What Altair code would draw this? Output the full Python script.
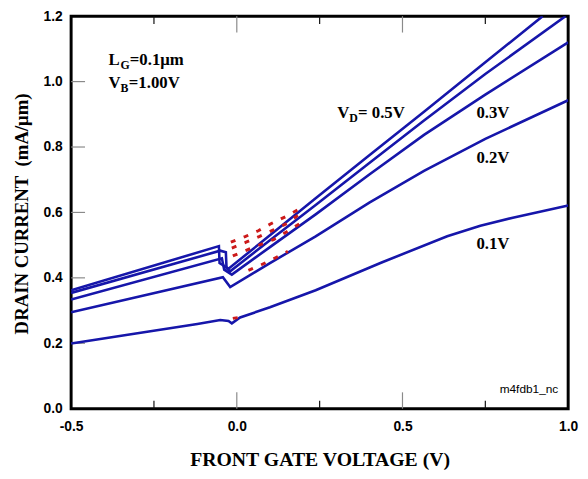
import altair as alt
import pandas as pd

# ---- blue curves: front gate voltage (V) vs drain current (mA/um) ----
VG_05 = [-0.5, -0.054, -0.052, -0.025, 0.1, 0.238, 0.4, 0.565, 0.75, 0.923]
ID_05 = [0.362, 0.497, 0.445, 0.428, 0.53, 0.643, 0.775, 0.908, 1.059, 1.2]

VG_04 = [-0.5, -0.05, -0.033, -0.031, -0.02, 0.1, 0.238, 0.4, 0.565, 0.75, 0.992]
ID_04 = [0.354, 0.483, 0.478, 0.43, 0.42, 0.515, 0.623, 0.751, 0.881, 1.023, 1.2]

VG_03 = [-0.5, -0.045, -0.038, -0.015, 0.1, 0.238, 0.4, 0.565, 0.75, 1.0]
ID_03 = [0.334, 0.46, 0.425, 0.41, 0.494, 0.594, 0.716, 0.837, 0.96, 1.12]

VG_02 = [-0.5, -0.042, -0.02, 0.1, 0.238, 0.4, 0.565, 0.75, 1.0]
ID_02 = [0.295, 0.402, 0.372, 0.445, 0.527, 0.63, 0.727, 0.825, 0.943]

VG_01 = [-0.5, -0.119, -0.05, -0.025, -0.015, 0.01, 0.1, 0.238, 0.437, 0.635, 0.735, 0.833, 1.0]
ID_01 = [0.199, 0.259, 0.271, 0.268, 0.261, 0.279, 0.31, 0.362, 0.447, 0.527, 0.559, 0.584, 0.621]

# ---- red dotted extrapolations ----
RA_X = [-0.018, 0.025, 0.065, 0.104, 0.147, 0.184]
RA_Y = [0.509, 0.526, 0.544, 0.566, 0.587, 0.608]
RB_X = [-0.015, 0.028, 0.069, 0.109, 0.151, 0.188]
RB_Y = [0.491, 0.509, 0.527, 0.546, 0.566, 0.594]
RC_X = [-0.012, 0.030, 0.069, 0.111, 0.151, 0.190]
RC_Y = [0.467, 0.485, 0.501, 0.517, 0.541, 0.566]
RD_X = [0.035, 0.074, 0.114, 0.154]
RD_Y = [0.423, 0.44, 0.46, 0.481]
RE_X = [-0.012, 0.012]
RE_Y = [0.276, 0.28]

# ---- axes ----
X_LABELS = [-0.5, 0.0, 0.5, 1.0]
Y_LABELS = [0.0, 0.2, 0.4, 0.6, 0.8, 1.0, 1.2]
X_MAJOR_TICKS = [0.0, 0.5]
X_MINOR_TICKS = [-0.25, 0.25, 0.75]
Y_TICKS = [0.2, 0.4, 0.6, 0.8, 1.0]

BLUE = "#1616aa"
RED = "#cc1a1a"
SERIF = "Liberation Serif"
SANS = "Liberation Sans"


def table(groups):
    rows = []
    for name, xs, ys in groups:
        for i, (a, b) in enumerate(zip(xs, ys)):
            rows.append({"curve": name, "vg": a, "id": b, "order": i})
    return pd.DataFrame(rows)


blue_df = table([("0.5", VG_05, ID_05), ("0.4", VG_04, ID_04), ("0.3", VG_03, ID_03),
                 ("0.2", VG_02, ID_02), ("0.1", VG_01, ID_01)])
red_df = table([("a", RA_X, RA_Y), ("b", RB_X, RB_Y), ("c", RC_X, RC_Y),
                ("d", RD_X, RD_Y), ("e", RE_X, RE_Y)])

xscale = alt.Scale(domain=[-0.5, 1.0], nice=False, zero=False)
yscale = alt.Scale(domain=[0.0, 1.2], nice=False, zero=False)

x_axis = alt.Axis(
    values=X_LABELS,
    labelExpr="datum.value < 0 ? '-' + format(-datum.value, '.1f') : format(datum.value, '.1f')",
    labelFont=SANS, labelFontWeight="bold", labelFontSize=14, labelColor="black",
    labelPadding=11, labelFlush=False, ticks=False, tickSize=0, domain=False, grid=False,
    title="FRONT GATE VOLTAGE (V)", titleFont=SERIF, titleFontWeight="bold",
    titleFontSize=20, titleColor="black", titleX=252, titleY=58,
    titleAlign="center", titleBaseline="alphabetic",
)
y_axis = alt.Axis(
    values=Y_LABELS, format=".1f",
    labelFont=SANS, labelFontWeight="bold", labelFontSize=14, labelColor="black",
    labelPadding=9, labelFlush=False, ticks=False, tickSize=0, domain=False, grid=False,
    title="DRAIN CURRENT\u00a0 (mA/\u03bcm)", titleFont=SERIF, titleFontWeight="bold",
    titleFontSize=19, titleColor="black", titleX=-50, titleY=200,
    titleAngle=270, titleAlign="center", titleBaseline="middle",
)


def X(field="vg"):
    return alt.X(f"{field}:Q", scale=xscale, axis=x_axis)


def Y(field="id"):
    return alt.Y(f"{field}:Q", scale=yscale, axis=y_axis)


blue = alt.Chart(blue_df).mark_line(color=BLUE, strokeWidth=2.6, clip=True).encode(
    x=X(), y=Y(), detail="curve:N", order="order:Q")

red = alt.Chart(red_df).mark_line(color=RED, strokeWidth=3, strokeDash=[5, 9], clip=True).encode(
    x=X(), y=Y(), detail="curve:N", order="order:Q")

# inward tick marks
MAJ = 0.05
MIN = 0.024
YT = 0.042
tick_rows = []
for v in X_MAJOR_TICKS:
    tick_rows.append({"x": v, "y": 0.0, "x2": v, "y2": MAJ, "kind": "major"})
    tick_rows.append({"x": v, "y": 1.2, "x2": v, "y2": 1.2 - MAJ, "kind": "major"})
for v in X_MINOR_TICKS:
    tick_rows.append({"x": v, "y": 0.0, "x2": v, "y2": MIN, "kind": "minor"})
    tick_rows.append({"x": v, "y": 1.2, "x2": v, "y2": 1.2 - MIN, "kind": "minor"})
for v in Y_TICKS:
    tick_rows.append({"x": -0.5, "y": v, "x2": -0.5 + YT, "y2": v, "kind": "major"})
ticks_df = pd.DataFrame(tick_rows)

ticks = alt.Chart(ticks_df).mark_rule(strokeWidth=1.2).encode(
    x=X("x"), y=Y("y"), x2="x2:Q", y2="y2:Q",
    color=alt.Color("kind:N", scale=alt.Scale(domain=["major", "minor"], range=["#8a8a8a", "#111111"]),
                    legend=None))

# annotations
big_df = pd.DataFrame([
    {"t": "L", "x": -0.387, "y": 1.050},
    {"t": "=0.1\u03bcm", "x": -0.323, "y": 1.050},
    {"t": "V", "x": -0.387, "y": 0.981},
    {"t": "=1.00V", "x": -0.326, "y": 0.981},
    {"t": "V", "x": 0.303, "y": 0.889},
    {"t": "= 0.5V", "x": 0.366, "y": 0.889},
    {"t": "0.3V", "x": 0.723, "y": 0.889},
    {"t": "0.2V", "x": 0.723, "y": 0.750},
    {"t": "0.1V", "x": 0.723, "y": 0.489},
])
sub_df = pd.DataFrame([
    {"t": "G", "x": -0.351, "y": 1.039},
    {"t": "B", "x": -0.351, "y": 0.968},
    {"t": "D", "x": 0.339, "y": 0.877},
])
small_df = pd.DataFrame([{"t": "m4fdb1_nc", "x": 0.970, "y": 0.048}])

big = alt.Chart(big_df).mark_text(font=SERIF, fontWeight="bold", fontSize=17, align="left",
                                  baseline="alphabetic", color="black").encode(
    x=X("x"), y=Y("y"), text="t:N")
sub = alt.Chart(sub_df).mark_text(font=SERIF, fontWeight="bold", fontSize=12, align="left",
                                  baseline="alphabetic", color="black").encode(
    x=X("x"), y=Y("y"), text="t:N")
small = alt.Chart(small_df).mark_text(font=SANS, fontSize=12, align="right",
                                      baseline="alphabetic", color="black").encode(
    x=X("x"), y=Y("y"), text="t:N")

chart = alt.layer(ticks, blue, red, big, sub, small).properties(
    width=504, height=398,
    autosize=alt.AutoSizeParams(type="none"),
    padding={"left": 64, "top": 5, "right": 12, "bottom": 68},
    background="white",
).configure_view(stroke="black", strokeWidth=3)

chart.save("out.html", embed_options={"renderer": "svg", "actions": False})
